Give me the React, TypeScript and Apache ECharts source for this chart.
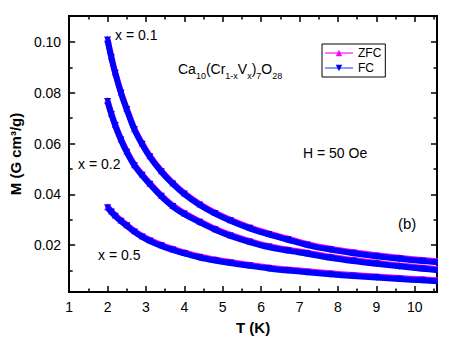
import React, { useEffect, useRef } from "react";
import * as echarts from "echarts";

// Temperature samples (K)
const T = [2.0, 2.1, 2.2, 2.35, 2.5, 2.7, 2.9, 3.1, 3.4, 3.7, 4.0, 4.4, 4.8, 5.2, 5.7, 6.2, 6.7, 7.2, 7.8, 8.4, 9.0, 9.6, 10.2, 10.6];

// M (G cm^3/g)
const M01_FC = [0.1008, 0.0938, 0.0877, 0.0799, 0.0734, 0.0655, 0.0597, 0.0548, 0.0489, 0.0441, 0.0401, 0.0358, 0.0324, 0.0296, 0.0266, 0.0242, 0.0221, 0.0200, 0.0182, 0.0168, 0.0156, 0.0146, 0.0137, 0.0132];
const M01_ZFC = [0.1012, 0.0942, 0.0881, 0.0803, 0.0738, 0.0659, 0.0601, 0.0552, 0.0493, 0.0445, 0.0405, 0.0362, 0.0328, 0.0300, 0.0270, 0.0246, 0.0225, 0.0204, 0.0186, 0.0172, 0.0160, 0.0150, 0.0141, 0.0136];
const M02_FC = [0.0766, 0.0715, 0.0671, 0.0614, 0.0566, 0.0513, 0.0475, 0.0440, 0.0392, 0.0352, 0.0322, 0.0290, 0.0260, 0.0236, 0.0212, 0.0192, 0.0178, 0.0166, 0.0150, 0.0137, 0.0126, 0.0116, 0.0107, 0.0101];
const M02_ZFC = [0.0770, 0.0719, 0.0675, 0.0618, 0.0570, 0.0517, 0.0479, 0.0444, 0.0396, 0.0356, 0.0326, 0.0294, 0.0264, 0.0240, 0.0216, 0.0196, 0.0182, 0.0170, 0.0154, 0.0141, 0.0130, 0.0120, 0.0111, 0.0105];
const M05_FC = [0.0347, 0.0330, 0.0314, 0.0294, 0.0276, 0.0252, 0.0232, 0.0216, 0.0197, 0.0181, 0.0167, 0.0151, 0.0139, 0.0129, 0.0118, 0.0108, 0.0100, 0.0093, 0.0085, 0.0078, 0.0072, 0.0066, 0.0061, 0.0057];
const M05_ZFC = [0.0351, 0.0334, 0.0318, 0.0298, 0.0280, 0.0256, 0.0236, 0.0220, 0.0201, 0.0185, 0.0171, 0.0155, 0.0143, 0.0133, 0.0122, 0.0112, 0.0104, 0.0097, 0.0089, 0.0082, 0.0076, 0.0070, 0.0065, 0.0061];

// Tick values
const X_MAJOR = [1, 2, 3, 4, 5, 6, 7, 8, 9, 10];
const X_MINOR = [1.5, 2.5, 3.5, 4.5, 5.5, 6.5, 7.5, 8.5, 9.5, 10.5];
const Y_MAJOR = [0.02, 0.04, 0.06, 0.08, 0.1];
const Y_MINOR = [0.01, 0.03, 0.05, 0.07, 0.09];

const X_MIN = 1;
const X_MAX = 10.58;
const Y_MIN = 0.0015;
const Y_MAX = 0.1103;

const FONT = "'Liberation Sans', Arial, sans-serif";
const MAGENTA = "#ff00ff";
const BLUE = "#0000ff";

export default function App() {
  const ref = useRef<HTMLDivElement>(null);
  useEffect(() => {
    if (!ref.current) return;
    const chart = echarts.init(ref.current, null, { renderer: "svg" });
    const lineS = { color: "#000", width: 2 };
    const tickS = { color: "#000", width: 1.5 };
    const xAx = (position: string, major: boolean, labels: boolean): any => ({
      type: "value",
      position,
      min: X_MIN,
      max: X_MAX,
      axisLine: { show: true, onZero: false, lineStyle: lineS },
      axisTick: {
        show: true,
        inside: true,
        length: major ? 6 : 3.5,
        lineStyle: tickS,
        customValues: major ? X_MAJOR : X_MINOR,
      },
      axisLabel: labels
        ? { show: true, customValues: X_MAJOR, fontSize: 14, color: "#000", fontFamily: FONT, margin: 8 }
        : { show: false },
      splitLine: { show: false },
      ...(labels
        ? {
            name: "T (K)",
            nameLocation: "middle",
            nameGap: 28,
            nameTextStyle: { fontSize: 15, fontWeight: "bold", color: "#000", fontFamily: FONT },
          }
        : {}),
    });
    const yAx = (position: string, major: boolean, labels: boolean): any => ({
      type: "value",
      position,
      min: Y_MIN,
      max: Y_MAX,
      axisLine: { show: true, onZero: false, lineStyle: lineS },
      axisTick: {
        show: true,
        inside: true,
        length: major ? 6 : 3.5,
        lineStyle: tickS,
        customValues: major ? Y_MAJOR : Y_MINOR,
      },
      axisLabel: labels
        ? {
            show: true,
            customValues: Y_MAJOR,
            fontSize: 14,
            color: "#000",
            fontFamily: FONT,
            margin: 8,
            formatter: (v: number) => v.toFixed(2),
          }
        : { show: false },
      splitLine: { show: false },
      ...(labels
        ? {
            name: "M (G cm³/g)",
            nameLocation: "middle",
            nameGap: 44,
            nameTextStyle: { fontSize: 15, fontWeight: "bold", color: "#000", fontFamily: FONT },
          }
        : {}),
    });

    const band = (name: string, vals: number[], color: string, zfc: boolean): any => ({
      type: "line",
      name,
      data: T.map((t, i) => [t, vals[i]]),
      smooth: 0.3,
      symbol: "triangle",
      symbolRotate: zfc ? 0 : 180,
      symbolSize: 7,
      showSymbol: true,
      lineStyle: { color, width: 6 },
      itemStyle: { color },
      z: zfc ? 2 : 3,
      silent: true,
    });

    chart.setOption({
      animation: false,
      backgroundColor: "#fff",
      grid: { left: 67, right: 13, top: 16, bottom: 52, containLabel: false },
      xAxis: [xAx("bottom", true, true), xAx("bottom", false, false), xAx("top", true, false), xAx("top", false, false)],
      yAxis: [yAx("left", true, true), yAx("left", false, false), yAx("right", true, false), yAx("right", false, false)],
      legend: {
        data: ["ZFC", "FC"],
        orient: "vertical",
        left: 322,
        top: 44,
        padding: [3, 4, 3, 2],
        itemGap: 3,
        itemWidth: 28,
        itemHeight: 8,
        borderColor: "#000",
        borderWidth: 1,
        borderRadius: 0,
        textStyle: { fontSize: 12, color: "#000", fontFamily: FONT },
      },
      series: [
        {
          type: "line",
          name: "ZFC",
          data: [],
          symbol: "triangle",
          symbolSize: 8,
          lineStyle: { color: "#ff70ff", width: 1 },
          itemStyle: { color: MAGENTA },
        },
        {
          type: "line",
          name: "FC",
          data: [],
          symbol: "triangle",
          symbolRotate: 180,
          symbolSize: 8,
          lineStyle: { color: "#7f9fff", width: 1 },
          itemStyle: { color: BLUE },
        },
        band("ZFC x=0.1", M01_ZFC, MAGENTA, true),
        band("ZFC x=0.2", M02_ZFC, MAGENTA, true),
        band("ZFC x=0.5", M05_ZFC, MAGENTA, true),
        band("FC x=0.1", M01_FC, BLUE, false),
        band("FC x=0.2", M02_FC, BLUE, false),
        band("FC x=0.5", M05_FC, BLUE, false),
      ],
      graphic: [
        { type: "text", x: 115, y: 35, style: { text: "x = 0.1", fontSize: 14, fontFamily: FONT, fill: "#000", verticalAlign: "middle" } },
        { type: "text", x: 78, y: 164, style: { text: "x = 0.2", fontSize: 14, fontFamily: FONT, fill: "#000", verticalAlign: "middle" } },
        { type: "text", x: 98, y: 255, style: { text: "x = 0.5", fontSize: 14, fontFamily: FONT, fill: "#000", verticalAlign: "middle" } },
        { type: "text", x: 303, y: 153, style: { text: "H = 50 Oe", fontSize: 14, fontFamily: FONT, fill: "#000", verticalAlign: "middle" } },
        { type: "text", x: 398, y: 223, style: { text: "(b)", fontSize: 15, fontFamily: FONT, fill: "#000", verticalAlign: "middle" } },
        {
          type: "text",
          x: 178,
          y: 62,
          style: {
            text: "{n|Ca}{s|10}{n|(Cr}{s|1-x}{n|V}{s|x}{n|)}{s|7}{n|O}{s|28}",
            fontFamily: FONT,
            fill: "#000",
            rich: {
              n: { fontSize: 14, lineHeight: 15, verticalAlign: "top", fontFamily: FONT, fill: "#000" },
              s: { fontSize: 9, lineHeight: 9, padding: [9, 0, 0, 0], verticalAlign: "top", fontFamily: FONT, fill: "#000" },
            },
          },
        },
      ],
    });
    return () => chart.dispose();
  }, []);
  return <div ref={ref} style={{ position: "fixed", left: 0, top: 0, width: 450, height: 344, background: "#fff" }} />;
}
